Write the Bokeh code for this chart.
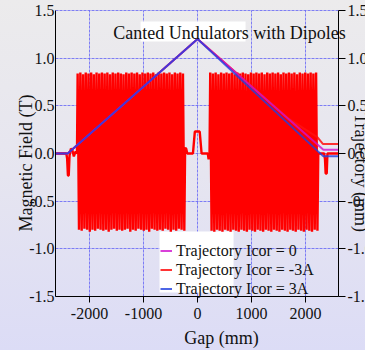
import math
import numpy as np
from bokeh.plotting import figure
from bokeh.models import (Range1d, LinearAxis, FixedTicker, Label,
                          BoxAnnotation, Legend, LegendItem)
from bokeh.embed import file_html
from bokeh.resources import INLINE

# ---------------- data ----------------
x_ticks = [-2000, -1000, 0, 1000, 2000]
x_tick_labels = ["-2000", "-1000", "0", "1000", "2000"]
y_ticks = [-1.5, -1.0, -0.5, 0.0, 0.5, 1.0, 1.5]
y_tick_labels = ["-1.5", "-1.0", "-0.5", "0.0", "0.5", "1.0", "1.5"]

# magnetic field: short sections
field_pre_x = [-2630, -2430, -2415, -2400, -2385, -2370, -2345, -2320, -2290, -2260, -2232]
field_pre_y = [0.0, 0.0, -0.05, -0.23, -0.23, -0.02, 0.05, 0.04, -0.03, 0.02, 0.0]
und_left_start, und_left_end = -2220, -245
und_left_B = [
    0.84, -0.80, 0.85, -0.81, 0.83, -0.79, 0.85, -0.80, 0.84, -0.82,
    0.85, -0.80, 0.83, -0.81, 0.85, -0.79, 0.84, -0.80, 0.85, -0.81,
    0.84, -0.80, 0.85, -0.82, 0.83, -0.80, 0.85, -0.79, 0.84, -0.81,
    0.85, -0.80, 0.84, -0.81, 0.83, -0.80, 0.85, -0.79, 0.84, -0.82,
    0.85, -0.80, 0.84, -0.81, 0.85, -0.79, 0.83, -0.80, 0.85, -0.81,
    0.84, -0.80, 0.85, -0.82, 0.84, -0.79, 0.85, -0.80, 0.83, -0.81,
    0.85, -0.80, 0.84, -0.81, 0.85, -0.79, 0.84, -0.80, 0.85, -0.82,
    0.83, -0.80, 0.85, -0.81, 0.84, -0.79, 0.85, -0.80, 0.84, -0.81,
]
field_mid_x = [-230, -210, -190, -85, -50, 40, 75, 190, 205, 222]
field_mid_y = [0.06, 0.05, 0.0, 0.0, 0.23, 0.23, 0.0, 0.0, -0.06, 0.0]
und_right_start, und_right_end = 235, 2220
und_right_B = [
    0.85, -0.81, 0.84, -0.82, 0.85, -0.80, 0.83, -0.81, 0.85, -0.82,
    0.84, -0.80, 0.85, -0.81, 0.84, -0.82, 0.85, -0.80, 0.83, -0.81,
    0.85, -0.82, 0.84, -0.80, 0.85, -0.81, 0.84, -0.82, 0.83, -0.80,
    0.85, -0.81, 0.84, -0.82, 0.85, -0.80, 0.84, -0.81, 0.85, -0.82,
    0.83, -0.80, 0.85, -0.81, 0.84, -0.82, 0.85, -0.80, 0.84, -0.81,
    0.85, -0.82, 0.83, -0.80, 0.85, -0.81, 0.84, -0.82, 0.85, -0.80,
    0.84, -0.81, 0.85, -0.82, 0.83, -0.80, 0.85, -0.81, 0.84, -0.82,
    0.85, -0.80, 0.84, -0.81, 0.85, -0.82, 0.84, -0.80, 0.85, -0.81,
]
field_post_x = [2235, 2345, 2360, 2372, 2392, 2405, 2610]
field_post_y = [0.0, 0.0, -0.06, -0.21, -0.21, 0.0, 0.0]

# trajectories (right axis, mm)
traj0_x = [-2630, -2405, 0, 2330, 2610]
traj0_y = [0.0, 0.0, 1.2, 0.04, 0.04]
trajm_x = [-2630, -2405, 0, 1700, 2222, 2320, 2610]
trajm_y = [0.0, 0.0, 1.2, 0.36, 0.17, 0.10, 0.10]
trajp_x = [-2630, -2405, 0, 2330, 2610]
trajp_y = [0.0, 0.0, 1.2, -0.03, -0.03]

legend_labels = ["Trajectory Icor = 0", "Trajectory Icor = -3A", "Trajectory Icor = 3A"]

# ---------------- build ----------------
W, H = 365, 350
FL, FR, FT, FB = 55, 338, 10, 296          # plotting box in pixels
X0, X1 = -2630, 2610
Y0, Y1 = -1.5, 1.5
sx = (FR - FL) / (X1 - X0)
sy = (FB - FT) / (Y1 - Y0)
XR = (X0 - FL / sx, X1 + (W - FR) / sx)
YR = (Y0 - (H - FB) / sy, Y1 + FT / sy)
FONT = "Liberation Serif"
TXT = "#111111"

field_x = (field_pre_x
           + list(np.linspace(und_left_start, und_left_end, len(und_left_B)))
           + field_mid_x
           + list(np.linspace(und_right_start, und_right_end, len(und_right_B)))
           + field_post_x)
field_y = field_pre_y + und_left_B + field_mid_y + und_right_B + field_post_y

p = figure(width=W, height=H, x_range=Range1d(*XR), y_range=Range1d(*YR),
           output_backend="svg", toolbar_location=None, title=None,
           min_border=0, min_border_left=0, min_border_right=0,
           min_border_top=0, min_border_bottom=0)
p.extra_y_ranges = {"traj": Range1d(*YR)}
p.background_fill_alpha = 0
p.border_fill_alpha = 0
p.outline_line_alpha = 0
p.styles = {"background": "linear-gradient(180deg, #ecebec 0%, #e6e5f0 50%, #dcdcf6 100%)"}

for g in (p.xgrid, p.ygrid):
    g.grid_line_color = "#5a5af5"
    g.grid_line_alpha = 0.75
    g.grid_line_dash = "3 1"
    g.grid_line_width = 1
p.xgrid.ticker = FixedTicker(ticks=x_ticks)
p.ygrid.ticker = FixedTicker(ticks=y_ticks)
p.xgrid.bounds = (X0, X1)
p.xgrid.cross_bounds = (Y0, Y1)
p.ygrid.bounds = (Y0, Y1)
p.ygrid.cross_bounds = (X0, X1)

xa = p.xaxis[0]
xa.fixed_location = Y0
xa.bounds = (X0, X1)
xa.ticker = FixedTicker(ticks=x_ticks)
xa.major_label_overrides = dict(zip(x_ticks, x_tick_labels))
xa.major_tick_out = 6
xa.major_tick_in = 0
xa.minor_tick_out = 0
xa.major_label_standoff = 5
xa.axis_line_color = "black"
xa.major_tick_line_color = "black"
xa.major_label_text_font = FONT
xa.major_label_text_font_size = "16px"
xa.major_label_text_color = TXT

ya = p.yaxis[0]
ya.fixed_location = X0
ya.bounds = (Y0, Y1)
ya.ticker = FixedTicker(ticks=y_ticks)
ya.major_label_overrides = dict(zip(y_ticks, y_tick_labels))
ya.major_tick_out = 0
ya.major_tick_in = 0
ya.minor_tick_out = 0
ya.major_label_standoff = 1
ya.axis_line_color = "black"
ya.major_label_text_font = FONT
ya.major_label_text_font_size = "16px"
ya.major_label_text_color = TXT

ra = LinearAxis(y_range_name="traj", ticker=FixedTicker(ticks=y_ticks))
ra.fixed_location = X1
ra.bounds = (Y0, Y1)
ra.major_label_overrides = dict(zip(y_ticks, y_tick_labels))
ra.major_tick_out = 7
ra.major_tick_in = 0
ra.minor_tick_out = 0
ra.major_label_standoff = 2
ra.axis_line_color = "black"
ra.major_label_text_font = FONT
ra.major_label_text_font_size = "16px"
ra.major_label_text_color = TXT
p.add_layout(ra, "right")

# white boxes (title backing, legend backing)
p.add_layout(BoxAnnotation(left=-1055, right=889, top=1.385, bottom=1.175,
                           fill_color="white", fill_alpha=1, line_alpha=0, level="underlay"))
p.add_layout(BoxAnnotation(left=-704, right=667, top=-0.818, bottom=-1.458,
                           fill_color="white", fill_alpha=1, line_alpha=0, level="underlay"))

# field
p.line(field_x, field_y, line_color="#ff0000", line_width=2.4)

# trajectories
r_red = p.line(trajm_x, trajm_y, y_range_name="traj", line_color="#ff1010", line_width=2, line_alpha=0.85)
r_mag = p.line(traj0_x, traj0_y, y_range_name="traj", line_color="#d010d0", line_width=2, line_alpha=0.8)
r_blue = p.line(trajp_x, trajp_y, y_range_name="traj", line_color="#2040e0", line_width=2, line_alpha=0.8)

legend = Legend(items=[LegendItem(label=legend_labels[0], renderers=[r_mag]),
                       LegendItem(label=legend_labels[1], renderers=[r_red]),
                       LegendItem(label=legend_labels[2], renderers=[r_blue])],
                location=(160, 52), background_fill_alpha=0, border_line_alpha=0,
                padding=0, margin=0, spacing=0, glyph_width=12, glyph_height=19,
                label_height=19, label_standoff=4, label_text_font=FONT,
                label_text_font_size="16px", label_text_color=TXT)
p.add_layout(legend)

# texts
p.add_layout(Label(x=593, y=1.259, text="Canted Undulators with Dipoles", text_align="center",
                   text_baseline="middle", text_font=FONT, text_font_size="18px", text_color=TXT))
p.add_layout(Label(x=444, y=-1.94, text="Gap (mm)", text_align="center",
                   text_baseline="middle", text_font=FONT, text_font_size="18px", text_color=TXT))
p.add_layout(Label(x=X0, y=-0.1, x_offset=-30, text="Magnetic Field (T)", angle=math.pi / 2,
                   text_align="center", text_baseline="middle", text_font=FONT,
                   text_font_size="18px", text_color=TXT))
p.add_layout(Label(x=X1, y=-0.2, x_offset=22, text="Trajectory (mm)", angle=-math.pi / 2,
                   text_align="center", text_baseline="middle", text_font=FONT,
                   text_font_size="18px", text_color=TXT))

open("out.html", "w").write(file_html(p, INLINE))
